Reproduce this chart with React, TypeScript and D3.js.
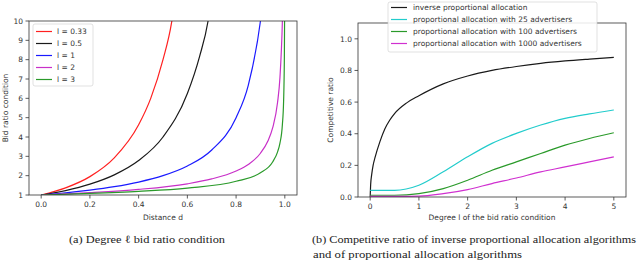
import * as d3 from "d3";

// left panel: bid ratio condition vs distance d, one curve per degree l
const leftLabels = ["l = 0.33", "l = 0.5", "l = 1", "l = 2", "l = 3"];
const leftColors = ["#ff2020", "#1a1a1a", "#1a1aff", "#c830c8", "#2a9a2a"];
const redD = [0, 0.1, 0.2, 0.3, 0.4, 0.45, 0.5, 0.535, 0.54];
const redY = [1, 1.37, 1.95, 2.92, 4.63, 6.01, 8.0, 9.9, 10.3];
const blackD = [0, 0.1, 0.2, 0.3, 0.4, 0.5, 0.6, 0.65, 0.685, 0.69];
const blackY = [1, 1.23, 1.56, 2.04, 2.78, 4.0, 6.25, 8.16, 10.0, 10.4];
const blueD = [0, 0.1, 0.2, 0.3, 0.4, 0.5, 0.6, 0.7, 0.8, 0.85, 0.9, 0.905];
const blueY = [1, 1.11, 1.25, 1.43, 1.67, 2.0, 2.5, 3.33, 5.0, 6.67, 10.0, 10.5];
const magD = [0, 0.2, 0.4, 0.6, 0.7, 0.8, 0.85, 0.9, 0.93, 0.95, 0.97, 0.98, 0.99, 0.991];
const magY = [1, 1.12, 1.29, 1.58, 1.83, 2.24, 2.58, 3.16, 3.78, 4.47, 5.77, 7.07, 10.0, 10.5];
const greenD = [0, 0.2, 0.4, 0.6, 0.8, 0.9, 0.95, 0.97, 0.98, 0.99, 0.995, 0.998, 0.999, 0.9992];
const greenY = [1, 1.08, 1.19, 1.36, 1.71, 2.15, 2.71, 3.22, 3.68, 4.64, 5.85, 7.94, 10.0, 10.8];
const leftXs = [redD, blackD, blueD, magD, greenD];
const leftYs = [redY, blackY, blueY, magY, greenY];
const leftXTicks = [0, 0.2, 0.4, 0.6, 0.8, 1.0];
const leftYTicks = [1, 2, 3, 4, 5, 6, 7, 8, 9, 10];

// right panel: competitive ratio vs degree l
const rightLabels = [
  "inverse proportional allocation",
  "proportional allocation with 25 advertisers",
  "proportional allocation with 100 advertisers",
  "proportional allocation with 1000 advertisers",
];
const rightColors = ["#1a1a1a", "#22cccc", "#2a9a2a", "#d030d0"];
const invL = [0, 0.01, 0.03, 0.06, 0.1, 0.2, 0.3, 0.4, 0.5, 0.75, 1, 1.5, 2, 2.5, 3, 3.5, 4, 4.5, 5];
const invY = [0, 0.08, 0.14, 0.2, 0.25, 0.35, 0.43, 0.485, 0.527, 0.595, 0.64, 0.715, 0.765, 0.8, 0.825, 0.845, 0.86, 0.872, 0.883];
const propL = [0, 0.5, 1, 1.5, 2, 2.5, 3, 3.5, 4, 4.5, 5];
const prop25 = [0.042, 0.042, 0.074, 0.159, 0.254, 0.339, 0.402, 0.455, 0.497, 0.525, 0.55];
const prop100 = [0.011, 0.011, 0.021, 0.053, 0.106, 0.169, 0.222, 0.275, 0.328, 0.37, 0.406];
const prop1000 = [0.004, 0.004, 0.005, 0.021, 0.047, 0.085, 0.12, 0.159, 0.19, 0.222, 0.254];
const rightXs = [invL, propL, propL, propL];
const rightYs = [invY, prop25, prop100, prop1000];
const rightXTicks = [0, 1, 2, 3, 4, 5];
const rightYTicks = [0, 0.2, 0.4, 0.6, 0.8, 1.0];

const tickFont = "DejaVu Sans, sans-serif";
const capFont = "Liberation Serif, serif";
const axisColor = "#333";

const App = () => {
  const lx = d3.scaleLinear().domain([-0.05, 1.05]).range([29, 297]);
  const ly = d3.scaleLinear().domain([1, 10]).range([195, 21]);
  const rx = d3.scaleLinear().domain([-0.25, 5.25]).range([358, 626]);
  const ry = d3.scaleLinear().domain([0, 1.1]).range([197, 23]);

  const lLine = d3
    .line<[number, number]>()
    .x((p) => lx(p[0]))
    .y((p) => ly(p[1]))
    .curve(d3.curveMonotoneX);
  const rLine = d3
    .line<[number, number]>()
    .x((p) => rx(p[0]))
    .y((p) => ry(p[1]))
    .curve(d3.curveMonotoneX);

  const [lx0, lx1] = lx.range();
  const [ly0, ly1] = ly.range();
  const [rx0, rx1] = rx.range();
  const [ry0, ry1] = ry.range();

  return (
    <svg
      width={640}
      height={261}
      style={{ position: "absolute", left: 0, top: 0, background: "#fff" }}
      fontFamily={tickFont}
    >
      <defs>
        <clipPath id="clipL">
          <rect x={lx0} y={ly1} width={lx1 - lx0} height={ly0 - ly1} />
        </clipPath>
        <clipPath id="clipR">
          <rect x={rx0} y={ry1} width={rx1 - rx0} height={ry0 - ry1} />
        </clipPath>
      </defs>

      {/* left panel */}
      <g clipPath="url(#clipL)">
        {leftXs.map((xs, i) => (
          <path
            key={i}
            d={lLine(xs.map((v, j) => [v, leftYs[i][j]] as [number, number])) || ""}
            fill="none"
            stroke={leftColors[i]}
            strokeWidth={1.2}
          />
        ))}
      </g>
      <rect x={lx0} y={ly1} width={lx1 - lx0} height={ly0 - ly1} fill="none" stroke={axisColor} strokeWidth={0.8} />
      {leftXTicks.map((t) => (
        <g key={t}>
          <line x1={lx(t)} x2={lx(t)} y1={ly0} y2={ly0 + 3.5} stroke={axisColor} strokeWidth={0.8} />
          <text x={lx(t)} y={ly0 + 12} fontSize={7.5} textAnchor="middle" fill="#333">
            {t.toFixed(1)}
          </text>
        </g>
      ))}
      {leftYTicks.map((t) => (
        <g key={t}>
          <line x1={lx0 - 3.5} x2={lx0} y1={ly(t)} y2={ly(t)} stroke={axisColor} strokeWidth={0.8} />
          <text x={lx0 - 6} y={ly(t) + 2.7} fontSize={7.5} textAnchor="end" fill="#333">
            {t}
          </text>
        </g>
      ))}
      <text x={(lx(0) + lx(1)) / 2} y={220} fontSize={7.5} textAnchor="middle" fill="#333">
        Distance d
      </text>
      <text
        transform={`translate(8,${(ly0 + ly1) / 2}) rotate(-90)`}
        fontSize={7.5}
        textAnchor="middle"
        fill="#333"
      >
        Bid ratio condition
      </text>
      <rect x={33} y={24} width={60} height={62} rx={2} fill="#fff" fillOpacity={0.85} stroke="#ccc" strokeWidth={0.6} />
      {leftLabels.map((s, i) => (
        <g key={s}>
          <line x1={36} x2={52} y1={31.5 + i * 12} y2={31.5 + i * 12} stroke={leftColors[i]} strokeWidth={1.2} />
          <text x={57} y={34.2 + i * 12} fontSize={7.5} fill="#333">
            {s}
          </text>
        </g>
      ))}

      {/* right panel */}
      <g clipPath="url(#clipR)">
        {rightXs.map((xs, i) => (
          <path
            key={i}
            d={rLine(xs.map((v, j) => [v, rightYs[i][j]] as [number, number])) || ""}
            fill="none"
            stroke={rightColors[i]}
            strokeWidth={1.2}
          />
        ))}
      </g>
      <rect x={rx0} y={ry1} width={rx1 - rx0} height={ry0 - ry1} fill="none" stroke={axisColor} strokeWidth={0.8} />
      {rightXTicks.map((t) => (
        <g key={t}>
          <line x1={rx(t)} x2={rx(t)} y1={ry0} y2={ry0 + 3.5} stroke={axisColor} strokeWidth={0.8} />
          <text x={rx(t)} y={ry0 + 12} fontSize={7.5} textAnchor="middle" fill="#333">
            {t}
          </text>
        </g>
      ))}
      {rightYTicks.map((t) => (
        <g key={t}>
          <line x1={rx0 - 3.5} x2={rx0} y1={ry(t)} y2={ry(t)} stroke={axisColor} strokeWidth={0.8} />
          <text x={rx0 - 6} y={ry(t) + 2.7} fontSize={7.5} textAnchor="end" fill="#333">
            {t.toFixed(1)}
          </text>
        </g>
      ))}
      <text x={(rx(0) + rx(5)) / 2} y={220} fontSize={7.5} textAnchor="middle" fill="#333">
        Degree l of the bid ratio condition
      </text>
      <text
        transform={`translate(333,${(ry0 + ry1) / 2}) rotate(-90)`}
        fontSize={7.5}
        textAnchor="middle"
        fill="#333"
      >
        Competitive ratio
      </text>
      <rect x={388} y={2} width={209} height={50} rx={2} fill="#fff" fillOpacity={0.85} stroke="#ccc" strokeWidth={0.6} />
      {rightLabels.map((s, i) => (
        <g key={s}>
          <line x1={391} x2={407} y1={7.5 + i * 12} y2={7.5 + i * 12} stroke={rightColors[i]} strokeWidth={1.2} />
          <text x={413} y={10.2 + i * 12} fontSize={7.5} fill="#333">
            {s}
          </text>
        </g>
      ))}

      {/* captions */}
      <text x={69} y={242.5} fontSize={11} fontFamily={capFont} fill="#222" textLength={156} lengthAdjust="spacingAndGlyphs">
        (a) Degree ℓ bid ratio condition
      </text>
      <text x={312} y={242.5} fontSize={11} fontFamily={capFont} fill="#222" textLength={324} lengthAdjust="spacingAndGlyphs">
        (b) Competitive ratio of inverse proportional allocation algorithms
      </text>
      <text x={313} y={257.5} fontSize={11} fontFamily={capFont} fill="#222" textLength={209} lengthAdjust="spacingAndGlyphs">
        and of proportional allocation algorithms
      </text>
    </svg>
  );
};

export default App;
